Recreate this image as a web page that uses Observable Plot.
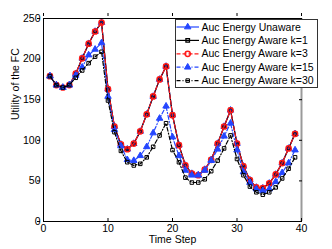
<!DOCTYPE html>
<html><head><meta charset="utf-8">
<script src="https://cdn.jsdelivr.net/npm/d3@7"></script>
<script src="https://cdn.jsdelivr.net/npm/@observablehq/plot@0.6"></script>
<style>
body{margin:0;background:#fff;}
#wrap{position:relative;width:332px;height:249px;font-family:"Liberation Sans",Arial,sans-serif;}
#wrap svg{display:block;}
#legend{position:absolute;left:0;top:0;pointer-events:none;}
</style></head><body><div id="wrap"></div>
<script>
const timeSteps = d3.range(1, 40);
const unaware = [179,168,165,168,182,201,219,234,245,163,117,95,89,96,111,132,154,175,191,131,94,69,59,57,64,76,96,117,137,96,68,51,42,41,47,58,72,90,108];
const awareK1 = [179,168,165,168,182,201,219,234,245,163,117,95,89,96,111,132,154,175,191,131,94,69,59,57,64,76,96,117,137,96,68,51,42,41,47,58,72,90,108];
const awareK3 = [179,168,165,168,182,201,219,234,245,163,117,95,89,96,111,132,154,175,191,131,94,69,59,57,64,76,96,117,137,96,68,51,42,41,47,58,72,90,108];
const awareK15 = [179,168,165,168,180,190,205,212,220,154,113,93,76,75,81,92,109,127,142,104,81,63,57,57,63,75,89,105,121,88,61,48,40,38,40,49,60,72,88];
const awareK30 = [179,168,165,168,177,186,195,203,209,149,110,87,73,69,71,79,92,106,121,88,73,54,48,48,52,62,75,90,106,77,57,43,36,33,36,42,53,65,79];
const seriesNames = ["Auc Energy Unaware","Auc Energy Aware k=1","Auc Energy Aware k=3","Auc Energy Aware k=15","Auc Energy Aware k=30"];
const xTicks = [0,10,20,30,40];
const yTicks = [0,50,100,150,200,250];
const xLabel = "Time Step";
const yLabel = "Utility of the FC";

const BLUE = "#2446ff", RED = "#ff1a1a", BLACK = "#000";
const styles = [
  {values: unaware, stroke: BLUE, dash: null, symbol: "triangle", fill: BLUE, r: 2.4, sw: 1},
  {values: awareK1, stroke: BLACK, dash: null, symbol: "square", fill: "none", r: 2.0, sw: 1.3},
  {values: awareK3, stroke: RED, dash: "4,2", symbol: "circle", fill: "none", r: 2.6, sw: 1.5},
  {values: awareK15, stroke: BLUE, dash: "4,2,1,2", symbol: "triangle", fill: BLUE, r: 2.4, sw: 1},
  {values: awareK30, stroke: BLACK, dash: "4,2,1,2", symbol: "square", fill: "none", r: 2.0, sw: 1}
];
const tables = styles.map(s => timeSteps.map((t, i) => ({t, v: s.values[i]})));

const marks = [];
styles.forEach((s, k) => {
  marks.push(Plot.line(tables[k], {x: "t", y: "v", stroke: s.stroke, strokeWidth: 1.2, strokeDasharray: s.dash || undefined}));
  marks.push(Plot.dot(tables[k], {x: "t", y: "v", symbol: s.symbol, r: s.r, fill: s.fill, stroke: s.stroke, strokeWidth: s.sw}));
});

const chart = Plot.plot({
  width: 332, height: 249,
  marginLeft: 43, marginRight: 31, marginTop: 18, marginBottom: 28,
  style: {fontFamily: "'Liberation Sans', Arial, sans-serif", fontSize: "10.5px", background: "white", color: "black"},
  x: {domain: [0, 40]},
  y: {domain: [0, 250]},
  marks: [
    ...marks,
    Plot.ruleY([0], {stroke: BLACK}),
    Plot.ruleY([250], {stroke: BLACK}),
    Plot.ruleX([0], {stroke: BLACK}),
    Plot.ruleX([40], {stroke: "#9a9a9a", strokeWidth: 2}),
    Plot.axisX({ticks: xTicks, tickSize: 0, tickPadding: 3, label: null, fontSize: "10.5px"}),
    Plot.axisY({ticks: yTicks, tickSize: 0, tickPadding: 3, label: null, fontSize: "10.5px"}),
    Plot.axisX({ticks: xTicks, anchor: "bottom", tickSize: 3, dy: -3, tickFormat: () => "", label: null}),
    Plot.axisX({ticks: xTicks, anchor: "top", tickSize: 3, dy: -3, tickFormat: () => "", label: null}),
    Plot.axisY({ticks: yTicks, anchor: "left", tickSize: 3, dx: -3, tickFormat: () => "", label: null}),
    Plot.axisY({ticks: yTicks, anchor: "right", tickSize: 3, dx: -3, tickFormat: () => "", label: null}),
    Plot.text([xLabel], {frameAnchor: "bottom", dy: 21.5, fontSize: 10.5, text: d => d}),
    Plot.text([yLabel], {frameAnchor: "left", dx: -28, rotate: -90, fontSize: 10.5, text: d => d})
  ]
});
const wrap = document.getElementById("wrap");
wrap.appendChild(chart);

// legend overlay
const lg = d3.select(wrap).append("svg").attr("id", "legend").attr("width", 332).attr("height", 249)
  .style("font-family", "'Liberation Sans', Arial, sans-serif").style("font-size", "10.5px");
lg.append("rect").attr("x", 175.5).attr("y", 19.5).attr("width", 142).attr("height", 68)
  .attr("fill", "white").attr("stroke", "#333");
styles.forEach((s, k) => {
  const y = 27 + k * 13.4;
  lg.append("line").attr("x1", 176.5).attr("x2", 199).attr("y1", y).attr("y2", y)
    .attr("stroke", s.stroke).attr("stroke-width", 1.2).attr("stroke-dasharray", s.dash);
  const sym = {triangle: d3.symbolTriangle, square: d3.symbolSquare, circle: d3.symbolCircle}[s.symbol];
  lg.append("path").attr("d", d3.symbol(sym, Math.PI * s.r * s.r)())
    .attr("transform", `translate(187.7,${y})`).attr("fill", s.fill).attr("stroke", s.stroke).attr("stroke-width", s.sw);
  lg.append("text").attr("x", 201.5).attr("y", y).attr("dy", "0.35em").text(seriesNames[k]);
});
</script></body></html>
